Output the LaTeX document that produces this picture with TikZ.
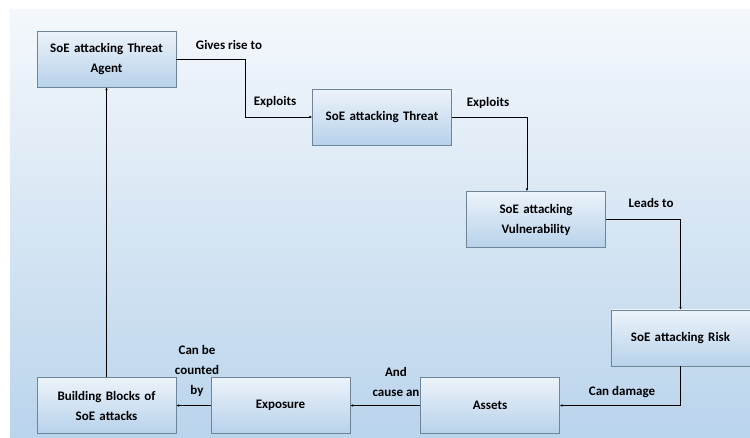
\documentclass[tikz,border=0pt]{standalone}
\usepackage{fontspec}
\setmainfont{Carlito}
\usepackage{tikz}
\usetikzlibrary{arrows.meta,backgrounds}
\definecolor{bgtop}{RGB}{244,248,252}
\definecolor{bgbottom}{RGB}{186,212,236}
\definecolor{boxtop}{RGB}{236,243,250}
\definecolor{boxbottom}{RGB}{184,210,235}
\definecolor{boxline}{RGB}{112,132,152}
\tikzset{
  soebox/.style={draw=boxline, top color=boxtop, bottom color=boxbottom,
    minimum width=139pt, minimum height=56pt, inner sep=2pt,
    align=center, text width=134pt, font=\bfseries},
  soelabel/.style={align=center, font=\bfseries},
  soearrow/.style={-{Latex[length=3pt,width=2.6pt]}, line width=0.6pt}
}
\begin{document}
\begin{tikzpicture}[x=1pt, y=-1pt, node font=\fontsize{13}{20}\selectfont]
  \useasboundingbox (0,0) rectangle (750,438);
  \fill[white] (0,0) rectangle (750,438);
  \shade[top color=bgtop, bottom color=bgbottom] (10,10) rectangle (750,438);
  % boxes
  \node[soebox] (agent) at (106.5,59) {SoE attacking Threat\\Agent};
  \node[soebox] (threat) at (382,117) {SoE attacking Threat};
  \node[soebox] (vuln) at (536,219.5) {SoE attacking\\Vulnerability};
  \node[soebox] (risk) at (680.5,338) {SoE attacking Risk};
  \node[soebox] (assets) at (490,405.5) {Assets};
  \node[soebox] (expo) at (280.5,405.5) {Exposure};
  \node[soebox] (blocks) at (106.5,405.5) {Building Blocks of\\SoE attacks};
  % connectors
  \draw[soearrow] (agent.east) -- ++(69,0) |- (threat.west);
  \draw[soearrow] (threat.east) -| ([xshift=-9pt]vuln.north);
  \draw[soearrow] (vuln.east) -| (risk.north);
  \draw[soearrow] (risk.south) |- (assets.east);
  \draw[soearrow] (assets.west) -- (expo.east);
  \draw[soearrow] (expo.west) -- (blocks.east);
  \draw[soearrow] (blocks.north) -- (agent.south);
  % labels
  \node[soelabel] (lgives) at (229,45) {Gives rise to};
  \node[soelabel] (lexpa) at (275,102) {Exploits};
  \node[soelabel] (lexpb) at (488,103) {Exploits};
  \node[soelabel] (lleads) at (651,203) {Leads to};
  \node[soelabel] (ldamage) at (622,392) {Can damage};
  \node[soelabel] (lcause) at (396,382) {And\\cause an};
  \node[soelabel] (lcount) at (197,371) {Can be\\counted\\by};
\end{tikzpicture}
\end{document}
